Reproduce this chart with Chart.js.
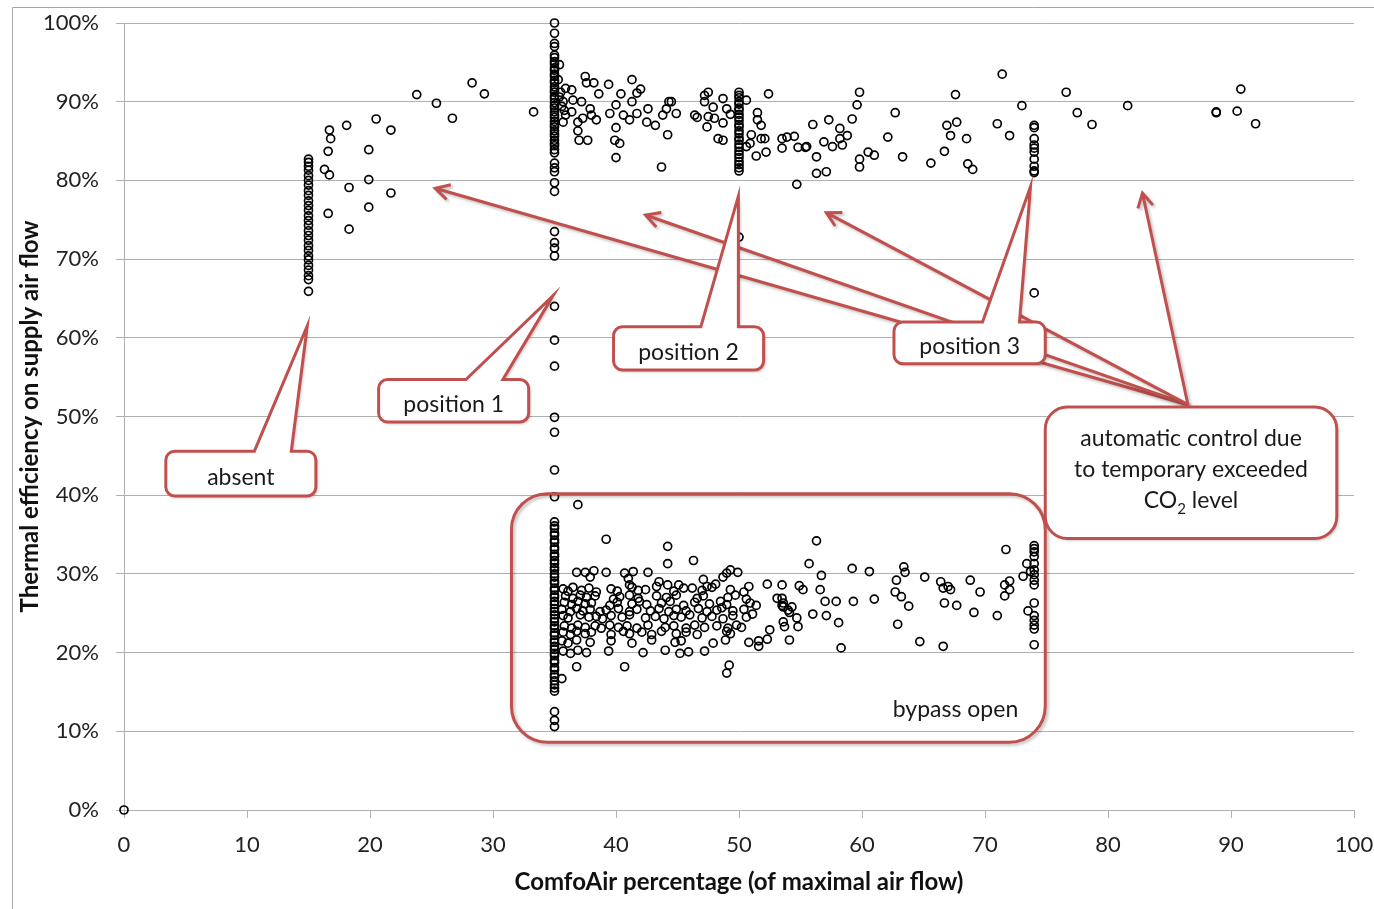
<!DOCTYPE html>
<html>
<head>
<meta charset="utf-8">
<script src="https://cdn.jsdelivr.net/npm/chart.js@4.4.0/dist/chart.umd.min.js"></script>
<style>
  body { margin: 0; background: #fff; }
</style>
</head>
<body>
<canvas id="myChart" width="1374" height="909"></canvas>
<script>
// x = ComfoAir percentage, y = thermal efficiency on supply air flow (%)
const offPoint = [[0, 0]];

// stacked readings at the fixed fan positions (y values only)
const col15 = [65.9, 67.4, 67.9, 68.6, 69.2, 69.9, 70.4, 71.1, 71.7, 72.4, 73.0, 73.6, 74.3, 74.9, 75.5,
  76.2, 76.8, 77.4, 78.1, 78.7, 79.4, 80.0, 80.6, 81.3, 81.8, 82.3, 82.7];
const col35 = [100.0, 98.7, 97.4, 97.0, 95.9, 95.6, 95.1, 94.8, 94.3, 94.0, 93.5, 93.2, 92.7, 92.4, 91.9,
  91.5, 91.2, 90.7, 90.4, 89.9, 89.5, 89.2, 88.7, 88.3, 88.0, 87.5, 87.1, 86.8, 86.3, 85.9, 85.6, 85.1,
  84.7, 84.4, 83.9, 83.5, 82.2, 81.6, 81.1, 79.7, 78.6, 73.5, 72.1, 71.4, 70.4, 64.0, 59.7, 56.4, 49.9,
  48.0, 43.2, 39.8, 36.6, 36.1, 35.8, 35.2, 34.9, 34.3, 34.0, 33.4, 33.1, 32.5, 32.2, 31.7, 31.3, 30.8,
  30.5, 30.0, 29.6, 29.1, 28.8, 28.2, 27.9, 27.3, 27.0, 26.5, 26.1, 25.6, 25.2, 24.8, 24.3, 23.9, 23.4,
  23.1, 22.5, 22.2, 21.6, 21.3, 20.8, 20.4, 19.9, 19.6, 19.0, 18.7, 18.1, 17.8, 17.2, 16.9, 16.4, 15.9,
  15.5, 15.1, 12.5, 11.4, 10.6];
const col50 = [91.2, 90.8, 90.5, 90.0, 89.7, 89.2, 88.9, 88.4, 88.0, 87.6, 87.1, 86.8, 86.3, 85.9, 85.4,
  85.1, 84.6, 84.2, 83.7, 83.3, 82.9, 82.4, 82.0, 81.6, 81.2, 72.8];
const col74 = [87.0, 86.7, 85.3, 84.5, 84.1, 83.6, 82.7, 81.8, 81.2, 81.0, 65.7,
  33.6, 33.2, 32.8, 32.2, 31.3, 30.5, 29.9, 29.2, 28.6, 26.3, 24.7, 24.1, 23.5, 23.0, 21.0];

// free readings at low flow (absent regime)
const lowFlowPts = [[16.3, 81.4], [16.7, 80.7], [16.6, 83.7], [16.7, 86.4], [16.8, 85.3], [16.6, 75.8],
  [18.1, 87.0], [18.3, 79.1], [18.3, 73.8], [19.9, 83.9], [19.9, 80.1], [19.9, 76.6], [20.5, 87.8],
  [21.7, 86.4], [21.7, 78.4], [23.8, 90.9], [25.4, 89.8], [26.7, 87.9], [28.3, 92.4], [29.3, 91.0],
  [33.3, 88.7]];

// free readings with heat recovery active
const upperPts = [[35.3, 92.8], [35.4, 94.7], [35.7, 90.0], [35.9, 88.3], [35.7, 87.4], [35.5, 91.2],
  [35.6, 89.4], [35.4, 90.6], [35.8, 88.9], [35.9, 91.7], [36.4, 91.5], [36.5, 90.2], [36.4, 88.7],
  [36.9, 87.4], [36.9, 86.3], [37.0, 85.1], [37.2, 90.0], [37.5, 93.2], [37.6, 92.4], [37.7, 85.1],
  [37.3, 87.9], [37.9, 89.1], [38.0, 88.3], [38.2, 92.4], [38.4, 87.7], [38.6, 91.0], [39.4, 92.2],
  [39.5, 88.5], [40.0, 89.6], [40.0, 86.7], [39.9, 85.1], [40.3, 84.7], [40.0, 82.9], [40.4, 91.0],
  [40.6, 88.3], [41.1, 87.7], [41.3, 90.0], [41.3, 92.8], [41.7, 91.1], [42.0, 91.6], [41.7, 88.5],
  [42.5, 87.4], [42.6, 89.1], [43.2, 87.0], [43.7, 81.7], [43.8, 88.3], [44.1, 89.1], [44.3, 90.0],
  [44.5, 90.0], [44.2, 85.8], [44.9, 88.5], [46.4, 88.3], [46.6, 88.0], [47.2, 90.8], [47.5, 91.2],
  [47.2, 90.0], [47.5, 88.1], [47.4, 86.8], [47.9, 89.3], [48.0, 87.9], [48.3, 85.3], [48.7, 85.1],
  [48.7, 90.4], [48.7, 87.3], [49.0, 89.1], [49.3, 88.4], [50.6, 90.2], [50.9, 84.7], [51.0, 85.8],
  [50.6, 84.3], [51.5, 88.6], [51.5, 87.7], [51.8, 87.0], [51.8, 85.3], [52.1, 85.3], [51.4, 83.1],
  [52.2, 83.6], [52.4, 91.0], [53.5, 85.3], [53.5, 84.1], [53.9, 85.5], [54.5, 85.6], [54.8, 84.2],
  [55.4, 84.2], [54.7, 79.5], [56.0, 87.1], [56.3, 83.0], [56.3, 80.9], [55.5, 84.3], [57.1, 81.1],
  [56.9, 84.9], [57.3, 87.7], [57.6, 84.3], [58.2, 86.6], [58.2, 85.3], [58.4, 84.5], [58.8, 85.7],
  [59.2, 87.8], [59.6, 89.6], [59.8, 91.2], [59.8, 82.7], [59.8, 81.7], [60.5, 83.6], [61.0, 83.2],
  [62.1, 85.5], [62.7, 88.6], [63.3, 83.0], [65.6, 82.2], [66.7, 83.7], [66.9, 87.0], [67.2, 85.7],
  [67.7, 87.4], [67.6, 90.9], [68.5, 85.3], [68.6, 82.1], [69.0, 81.4], [71.0, 87.2], [71.4, 93.5],
  [72.0, 85.7], [73.0, 89.5], [76.6, 91.2], [77.5, 88.6], [78.7, 87.1], [81.6, 89.5], [88.8, 88.7],
  [88.8, 88.6], [90.5, 88.8], [90.8, 91.6], [92.0, 87.2]];

// free readings with the bypass open
const bypassPts = [[36.9, 38.8], [39.2, 34.4], [44.2, 33.5], [44.2, 31.3], [46.3, 31.7], [49.3, 30.5],
  [49.0, 30.1], [48.7, 29.6], [49.9, 30.2], [36.8, 30.2], [37.5, 30.2], [38.2, 30.4], [39.2, 30.2],
  [40.7, 30.1], [41.4, 30.3], [42.6, 30.2], [37.9, 29.6], [41.0, 29.4], [41.1, 28.6], [43.5, 29.0],
  [44.2, 28.6], [45.1, 28.6], [46.2, 28.2], [47.1, 29.3], [47.4, 28.4], [48.1, 28.7], [52.3, 28.7],
  [53.5, 28.6],
  [35.7, 28.1], [36.1, 27.8], [36.5, 28.3], [37.2, 27.9], [37.8, 28.2], [38.4, 27.7], [39.6, 28.1],
  [40.1, 27.8], [41.3, 28.3], [41.8, 27.9], [42.4, 28.0], [43.3, 28.4], [44.7, 27.8], [45.5, 28.2],
  [47.0, 27.9], [47.8, 28.3], [49.3, 28.0], [50.4, 27.7], [50.8, 28.4],
  [35.9, 27.2], [36.5, 26.9], [37.1, 27.3], [37.6, 27.0], [38.3, 27.2], [39.8, 26.8], [40.3, 27.1],
  [41.1, 27.3], [41.8, 26.9], [43.3, 27.2], [44.1, 27.0], [44.9, 27.3], [46.6, 26.9], [47.1, 27.2],
  [49.1, 27.0], [49.7, 27.3], [50.6, 26.8],
  [35.8, 26.4], [36.4, 26.1], [36.9, 26.5], [37.5, 26.2], [38.0, 26.3], [39.5, 26.0], [40.1, 26.4],
  [41.3, 26.2], [41.9, 26.5], [42.5, 26.1], [43.7, 26.3], [44.4, 26.5], [45.5, 26.0], [46.4, 26.4],
  [47.6, 26.2], [48.5, 26.5], [49.0, 26.1], [50.9, 26.3], [51.4, 26.0],
  [35.6, 25.5], [36.3, 25.2], [36.8, 25.6], [37.3, 25.3], [37.9, 25.5], [38.7, 25.2], [39.2, 25.4],
  [40.2, 25.6], [41.1, 25.2], [41.7, 25.5], [42.8, 25.3], [43.5, 25.6], [44.3, 25.2], [44.9, 25.5],
  [45.7, 25.3], [46.7, 25.6], [47.4, 25.2], [48.2, 25.4], [48.6, 25.7], [49.5, 25.3], [50.4, 25.5],
  [35.7, 24.7], [36.1, 24.4], [37.1, 24.8], [37.8, 24.5], [38.4, 24.6], [38.9, 24.3], [39.6, 24.7],
  [40.5, 24.5], [41.1, 24.8], [42.4, 24.4], [43.2, 24.6], [43.9, 24.3], [44.7, 24.7], [45.3, 24.5],
  [46.0, 24.8], [47.0, 24.4], [47.8, 24.6], [48.7, 24.3], [49.5, 24.7], [50.6, 24.5],
  [35.8, 23.4], [36.4, 23.1], [36.9, 23.5], [37.5, 23.2], [38.3, 23.4], [38.8, 23.1], [39.5, 23.5],
  [40.2, 23.2], [40.9, 23.4], [41.7, 23.1], [42.6, 23.5], [44.0, 23.2], [44.7, 23.4], [45.7, 23.1],
  [46.4, 23.5], [47.2, 23.2], [48.2, 23.4], [49.1, 23.1], [49.8, 23.5], [50.2, 23.2],
  [35.7, 22.6], [36.3, 22.3], [36.8, 22.7], [37.5, 22.4], [38.0, 22.6], [39.6, 22.3], [40.6, 22.7],
  [41.1, 22.4], [42.1, 22.6], [42.9, 22.3], [43.7, 22.7], [44.9, 22.4], [45.7, 22.6], [46.6, 22.3],
  [49.0, 22.7], [49.3, 22.4],
  [35.6, 21.5], [36.1, 21.2], [36.8, 21.6], [37.9, 21.3], [39.6, 21.5], [41.3, 21.2], [42.9, 21.6],
  [44.8, 21.3], [45.3, 21.5], [47.9, 21.2], [48.9, 21.6], [50.8, 21.3], [51.6, 21.5], [52.3, 21.7],
  [35.7, 20.2], [36.3, 19.9], [36.9, 20.3], [37.6, 20.0], [39.4, 20.2], [42.2, 20.0], [44.0, 20.3],
  [45.2, 19.9], [45.9, 20.1], [47.2, 20.2],
  [36.8, 18.2], [40.7, 18.2], [49.2, 18.4], [49.0, 17.4], [35.6, 16.7],
  [53.1, 26.9], [53.5, 26.0], [54.0, 25.4], [51.6, 20.8], [52.5, 22.9], [51.1, 24.9],
  [56.3, 34.2], [55.7, 31.3], [56.7, 29.8], [56.6, 28.0], [57.0, 26.5], [57.9, 26.5], [56.0, 24.9],
  [57.1, 24.7], [58.1, 23.8], [58.3, 20.6], [59.2, 30.7], [59.3, 26.5], [60.6, 30.3], [61.0, 26.8],
  [62.8, 29.2], [63.4, 30.9], [63.5, 30.2], [62.7, 27.7], [63.2, 27.1], [63.8, 25.9], [62.9, 23.6],
  [64.7, 21.4], [65.1, 29.6], [66.4, 29.0], [66.6, 28.2], [67.0, 28.4], [67.2, 28.0], [66.7, 26.3],
  [67.7, 26.0], [66.6, 20.8], [68.8, 29.2], [69.6, 27.7], [69.1, 25.1], [71.0, 24.7], [71.7, 33.1],
  [71.6, 28.6], [72.0, 29.1], [71.6, 27.2], [72.0, 28.0], [73.1, 29.7], [73.4, 31.3], [73.7, 30.3],
  [73.5, 25.3], [53.5, 26.9], [53.6, 26.3], [53.6, 25.8], [53.7, 23.3], [54.3, 25.8], [54.1, 25.1],
  [54.7, 24.4], [54.8, 23.3], [54.1, 21.6], [53.6, 23.9], [54.9, 28.5], [55.2, 28.0]];

const xTitle = 'ComfoAir percentage (of maximal air flow)';
const yTitle = 'Thermal efficiency on supply air flow';

const allPoints = []
	.concat(offPoint)
	.concat(col15.map(v => [15, v]))
	.concat(col35.map(v => [35, v]))
	.concat(col50.map(v => [50, v]))
	.concat(col74.map(v => [74, v]))
	.concat(lowFlowPts, upperPts, bypassPts)
	.map(p => ({x: p[0], y: p[1]}));

// callouts, placed in axis units
const callouts = [
	{text: 'absent', box: [3.4, 45.6, 15.6, 39.9], base: [10.6, 13.6], tip: [14.9, 61.5]},
	{text: 'position 1', box: [20.7, 54.7, 32.9, 49.3], base: [27.8, 30.8], tip: [34.9, 65.4]},
	{text: 'position 2', box: [39.8, 61.4, 52.0, 55.9], base: [46.9, 49.95], tip: [49.95, 78.0]},
	{text: 'position 3', box: [62.6, 62.0, 74.9, 56.7], base: [69.8, 72.8], tip: [73.7, 79.2]}
];
const autoBox = [74.9, 51.2, 98.6, 34.5];
const arrowFrom = [86.5, 51.5];
const arrowTips = [[25.3, 79.0], [42.4, 75.6], [57.1, 75.9], [82.8, 78.4]];
const bypassBox = [31.5, 40.2, 74.9, 8.6];
const RED = '#c0504d';
const FONT = 'Lato, "Open Sans", sans-serif';

function roundPath(ctx, l, t, r, b, rad, ptr) {
	ctx.beginPath();
	ctx.moveTo(l + rad, t);
	if (ptr) {
		ctx.lineTo(ptr[0], t);
		ctx.lineTo(ptr[2], ptr[3]);
		ctx.lineTo(ptr[1], t);
	}
	ctx.lineTo(r - rad, t);
	ctx.arcTo(r, t, r, t + rad, rad);
	ctx.lineTo(r, b - rad);
	ctx.arcTo(r, b, r - rad, b, rad);
	ctx.lineTo(l + rad, b);
	ctx.arcTo(l, b, l, b - rad, rad);
	ctx.lineTo(l, t + rad);
	ctx.arcTo(l, t, l + rad, t, rad);
	ctx.closePath();
}

function shadowOn(ctx) {
	ctx.shadowColor = 'rgba(0,0,0,0.25)';
	ctx.shadowBlur = 3;
	ctx.shadowOffsetX = 2;
	ctx.shadowOffsetY = 2;
}

const frame = {
	id: 'frame',
	beforeDraw(chart) {
		const ctx = chart.ctx;
		ctx.save();
		ctx.fillStyle = '#fff';
		ctx.fillRect(0, 0, chart.width, chart.height);
		ctx.strokeStyle = '#a6a6a6';
		ctx.lineWidth = 1;
		ctx.beginPath();
		ctx.moveTo(12.5, chart.height);
		ctx.lineTo(12.5, 7.5);
		ctx.lineTo(chart.width, 7.5);
		ctx.stroke();
		ctx.restore();
	}
};

const notes = {
	id: 'notes',
	afterDatasetsDraw(chart) {
		const ctx = chart.ctx;
		const x = chart.scales.x, y = chart.scales.y;
		const px = v => x.getPixelForValue(v);
		const py = v => y.getPixelForValue(v);
		const big = '23px ' + FONT, small = '15px ' + FONT;
		ctx.save();
		ctx.lineWidth = 3;
		ctx.strokeStyle = RED;
		ctx.lineJoin = 'miter';
		ctx.miterLimit = 20;
		ctx.font = big;
		ctx.fillStyle = '#1a1a1a';
		ctx.textBaseline = 'middle';

		// bypass open frame
		shadowOn(ctx);
		roundPath(ctx, px(bypassBox[0]), py(bypassBox[1]), px(bypassBox[2]), py(bypassBox[3]), 36);
		ctx.stroke();
		ctx.shadowColor = 'transparent';
		ctx.textAlign = 'right';
		ctx.fillText('bypass open', px(72.7), py(12.7));

		// arrows from the CO2 note
		const fx = px(arrowFrom[0]), fy = py(arrowFrom[1]);
		arrowTips.forEach(t => {
			const tx = px(t[0]), ty = py(t[1]);
			const a = Math.atan2(fy - ty, fx - tx);
			shadowOn(ctx);
			ctx.beginPath();
			ctx.moveTo(fx, fy);
			ctx.lineTo(tx, ty);
			ctx.moveTo(tx + 16 * Math.cos(a - 0.5), ty + 16 * Math.sin(a - 0.5));
			ctx.lineTo(tx, ty);
			ctx.lineTo(tx + 16 * Math.cos(a + 0.5), ty + 16 * Math.sin(a + 0.5));
			ctx.stroke();
		});

		// CO2 note
		shadowOn(ctx);
		roundPath(ctx, px(autoBox[0]), py(autoBox[1]), px(autoBox[2]), py(autoBox[3]), 22);
		ctx.fillStyle = '#fff';
		ctx.fill();
		ctx.shadowColor = 'transparent';
		ctx.stroke();
		ctx.fillStyle = '#1a1a1a';
		ctx.textAlign = 'center';
		const cx = (px(autoBox[0]) + px(autoBox[2])) / 2;
		const cy = (py(autoBox[1]) + py(autoBox[3])) / 2;
		ctx.fillText('automatic control due', cx, cy - 34);
		ctx.fillText('to temporary exceeded', cx, cy - 3);
		const w1 = ctx.measureText('CO').width;
		const w3 = ctx.measureText(' level').width;
		ctx.font = small;
		const w2 = ctx.measureText('2').width;
		let sx = cx - (w1 + w2 + w3) / 2;
		ctx.textAlign = 'left';
		ctx.font = big;
		ctx.fillText('CO', sx, cy + 28);
		ctx.font = small;
		ctx.fillText('2', sx + w1, cy + 36);
		ctx.font = big;
		ctx.fillText(' level', sx + w1 + w2, cy + 28);

		// position callouts
		callouts.forEach(c => {
			const l = px(c.box[0]), t = py(c.box[1]), r = px(c.box[2]), b = py(c.box[3]);
			shadowOn(ctx);
			roundPath(ctx, l, t, r, b, 9, [px(c.base[0]), px(c.base[1]), px(c.tip[0]), py(c.tip[1])]);
			ctx.fillStyle = '#fff';
			ctx.fill();
			ctx.shadowColor = 'transparent';
			ctx.stroke();
			ctx.fillStyle = '#1a1a1a';
			ctx.textAlign = 'center';
			ctx.fillText(c.text, (l + r) / 2, (t + b) / 2 + 4);
		});
		ctx.restore();
	}
};

const ctx = document.getElementById('myChart').getContext('2d');
const myChart = new Chart(ctx, {
	type: 'scatter',
	data: {
		datasets: [{
			label: 'efficiency',
			data: allPoints,
			pointRadius: 4,
			pointHoverRadius: 4,
			pointBorderWidth: 1.7,
			borderColor: '#000',
			backgroundColor: 'rgba(0,0,0,0)',
			clip: false
		}]
	},
	options: {
		responsive: false,
		animation: false,
		devicePixelRatio: 1,
		layout: {padding: {left: 14, right: 20, top: 23, bottom: 0}},
		plugins: {legend: {display: false}, tooltip: {enabled: false}},
		scales: {
			x: {
				type: 'linear',
				min: 0,
				max: 100,
				ticks: {stepSize: 10, padding: 14, color: '#222', font: {family: FONT, size: 22}},
				grid: {drawOnChartArea: false, tickLength: 8, color: '#b0b0b0'},
				border: {color: '#b0b0b0'},
				title: {display: true, text: xTitle, color: '#111', padding: 12,
					font: {family: FONT, size: 24, weight: 'bold'}},
				afterFit(s) { s.height = 99; s.paddingLeft = 0; s.paddingRight = 0; }
			},
			y: {
				min: 0,
				max: 100,
				ticks: {stepSize: 10, padding: 17, color: '#222', font: {family: FONT, size: 22},
					callback: v => v + '%'},
				grid: {tickLength: 8, color: '#b0b0b0'},
				border: {color: '#b0b0b0'},
				title: {display: true, text: yTitle, color: '#111', padding: 2,
					font: {family: FONT, size: 24, weight: 'bold'}},
				afterFit(s) { s.width = 110; s.paddingTop = 0; s.paddingBottom = 0; }
			}
		}
	},
	plugins: [frame, notes]
});
</script>
</body>
</html>
